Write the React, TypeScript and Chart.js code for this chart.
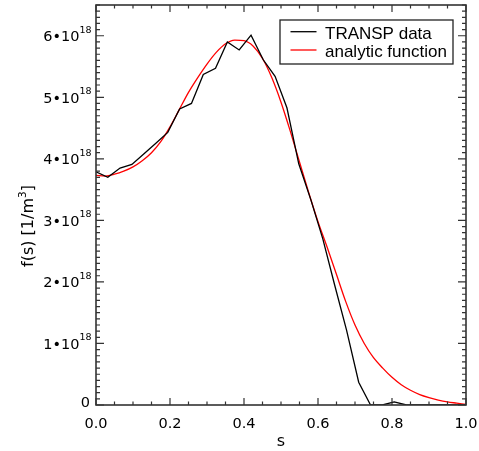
import { useEffect, useRef } from "react";
import { Chart, registerables } from "chart.js";

Chart.register(...registerables);

// TRANSP data (s, f(s) in units of 1e18 1/m^3)
const S_TRANSP = [
  0, 0.032, 0.065, 0.097, 0.129, 0.161, 0.194, 0.226, 0.258, 0.29, 0.323,
  0.355, 0.387, 0.419, 0.452, 0.484, 0.516, 0.548, 0.581, 0.613, 0.645,
  0.677, 0.71, 0.742, 0.774, 0.806, 0.839, 0.871, 0.903, 0.935, 0.968, 1.0,
];
const F_TRANSP = [
  3.79, 3.7, 3.85, 3.91, 4.08, 4.25, 4.43, 4.81, 4.9, 5.37, 5.47,
  5.9, 5.77, 6.01, 5.61, 5.34, 4.83, 3.92, 3.33, 2.7, 1.95,
  1.22, 0.37, 0, 0, 0.05, 0, 0, 0, 0, 0, 0,
];

// analytic function
const S_FIT = [
  0, 0.025, 0.05, 0.075, 0.1, 0.125, 0.15, 0.175, 0.2, 0.225, 0.25, 0.275,
  0.3, 0.325, 0.35, 0.375, 0.4, 0.425, 0.45, 0.475, 0.5, 0.525, 0.55, 0.575,
  0.6, 0.625, 0.65, 0.675, 0.7, 0.725, 0.75, 0.775, 0.8, 0.825, 0.85, 0.875,
  0.9, 0.925, 0.95, 0.975, 1.0,
];
const F_FIT = [
  3.73, 3.72, 3.75, 3.8, 3.87, 3.97, 4.1, 4.28, 4.52, 4.8, 5.08, 5.32,
  5.54, 5.73, 5.87, 5.93, 5.92, 5.83, 5.63, 5.32, 4.92, 4.45, 3.95, 3.45,
  2.98, 2.56, 2.12, 1.68, 1.3, 1.0, 0.77, 0.6, 0.45, 0.33, 0.24, 0.17,
  0.12, 0.08, 0.05, 0.03, 0.01,
];

const X_TICKS = [0, 0.2, 0.4, 0.6, 0.8, 1.0];
const Y_TICKS = [0, 1, 2, 3, 4, 5, 6];
const Y_EXPONENT = "18";
const LEGEND_LABELS = ["TRANSP data", "analytic function"];
const X_TITLE = "s";
const Y_TITLE_MAIN = "f(s) [1/m";
const Y_TITLE_SUP = "3";
const Y_TITLE_END = "]";

const TICK_FONT = "DejaVu Sans";
const LEGEND_FONT = "Liberation Sans";

const decorPlugin = {
  id: "decor",
  afterDraw(chart: any) {
    const { ctx, chartArea: a, scales } = chart;
    const xs = scales.x;
    const ys = scales.y;
    ctx.save();

    // frame
    ctx.strokeStyle = "#333";
    ctx.lineWidth = 1.6;
    ctx.strokeRect(a.left, a.top, a.right - a.left, a.bottom - a.top);

    // ticks (inward, on all four sides)
    ctx.lineWidth = 1.2;
    ctx.beginPath();
    for (let k = 0; k <= 20; k++) {
      const px = xs.getPixelForValue(k * 0.05);
      const len = k % 4 === 0 ? 7 : 3.5;
      ctx.moveTo(px, a.bottom);
      ctx.lineTo(px, a.bottom - len);
      ctx.moveTo(px, a.top);
      ctx.lineTo(px, a.top + len);
    }
    for (let k = 0; k <= 65; k++) {
      const py = ys.getPixelForValue(k * 0.1);
      const len = k % 10 === 0 ? 8 : 4;
      ctx.moveTo(a.left, py);
      ctx.lineTo(a.left + len, py);
      ctx.moveTo(a.right, py);
      ctx.lineTo(a.right - len, py);
    }
    ctx.stroke();

    // y tick labels with superscript exponent
    ctx.fillStyle = "#000";
    ctx.textAlign = "right";
    ctx.textBaseline = "alphabetic";
    const rightX = a.left - 4.5;
    for (const m of Y_TICKS) {
      const py = ys.getPixelForValue(m);
      if (m === 0) {
        ctx.font = `14.5px '${TICK_FONT}'`;
        ctx.fillText("0", rightX - 1.5, py + 1.8);
        continue;
      }
      ctx.font = `9.5px '${TICK_FONT}'`;
      const supW = ctx.measureText(Y_EXPONENT).width;
      ctx.fillText(Y_EXPONENT, rightX, py - 3.1);
      ctx.font = `14.5px '${TICK_FONT}'`;
      ctx.fillText(`${m}\u202210`, rightX - supW, py + 5.3);
    }

    // y title (rotated)
    ctx.save();
    ctx.translate(33, 226);
    ctx.rotate(-Math.PI / 2);
    ctx.textAlign = "left";
    ctx.font = `16px '${TICK_FONT}'`;
    const w1 = ctx.measureText(Y_TITLE_MAIN).width;
    const w3 = ctx.measureText(Y_TITLE_END).width;
    ctx.font = `10.5px '${TICK_FONT}'`;
    const w2 = ctx.measureText(Y_TITLE_SUP).width;
    let x0 = -(w1 + w2 + w3) / 2;
    ctx.font = `16px '${TICK_FONT}'`;
    ctx.fillText(Y_TITLE_MAIN, x0, 0);
    ctx.font = `10.5px '${TICK_FONT}'`;
    ctx.fillText(Y_TITLE_SUP, x0 + w1, -7);
    ctx.font = `16px '${TICK_FONT}'`;
    ctx.fillText(Y_TITLE_END, x0 + w1 + w2, 0);
    ctx.restore();

    // legend
    const bx = 280, by = 20, bw = 173, bh = 44;
    ctx.fillStyle = "#fff";
    ctx.fillRect(bx, by, bw, bh);
    ctx.strokeStyle = "#222";
    ctx.lineWidth = 1.3;
    ctx.strokeRect(bx, by, bw, bh);
    const colors = chart.data.datasets.map((d: any) => d.borderColor);
    const rowY = [31.7, 50];
    ctx.font = `17px '${LEGEND_FONT}'`;
    ctx.textAlign = "left";
    ctx.fillStyle = "#000";
    LEGEND_LABELS.forEach((label, i) => {
      ctx.strokeStyle = colors[i];
      ctx.lineWidth = 1.3;
      ctx.beginPath();
      ctx.moveTo(290.5, rowY[i]);
      ctx.lineTo(316.5, rowY[i]);
      ctx.stroke();
      ctx.fillText(label, 325, rowY[i] + 7);
    });

    ctx.restore();
  },
};

export default function App() {
  const ref = useRef<HTMLCanvasElement | null>(null);

  useEffect(() => {
    if (!ref.current) return;
    const chart = new Chart(ref.current, {
      type: "line",
      data: {
        datasets: [
          {
            label: LEGEND_LABELS[0],
            data: S_TRANSP.map((s, i) => ({ x: s, y: F_TRANSP[i] })),
            borderColor: "#000000",
            borderWidth: 1.3,
            pointRadius: 0,
            tension: 0,
            fill: false,
          },
          {
            label: LEGEND_LABELS[1],
            data: S_FIT.map((s, i) => ({ x: s, y: F_FIT[i] })),
            borderColor: "#ff0000",
            borderWidth: 1.3,
            pointRadius: 0,
            cubicInterpolationMode: "monotone",
            fill: false,
          },
        ],
      },
      options: {
        animation: false,
        responsive: true,
        maintainAspectRatio: false,
        layout: { padding: { top: 5, right: 13, left: 0, bottom: 0 } },
        plugins: {
          legend: { display: false },
          tooltip: { enabled: false },
        },
        scales: {
          x: {
            type: "linear",
            min: 0,
            max: 1,
            grid: { display: false, drawTicks: false },
            border: { display: false },
            afterBuildTicks: (s: any) => {
              s.ticks = X_TICKS.map((v) => ({ value: v }));
            },
            ticks: {
              callback: (v: any) => Number(v).toFixed(1),
              font: { family: TICK_FONT, size: 14.5 },
              color: "#000",
              padding: 11,
              maxRotation: 0,
              autoSkip: false,
            },
            title: {
              display: true,
              text: X_TITLE,
              font: { family: TICK_FONT, size: 16, lineHeight: 1.1 },
              color: "#000",
              padding: { top: 0, bottom: 0 },
            },
            afterFit: (s: any) => {
              s.height = 46;
              s.paddingLeft = 0;
              s.paddingRight = 0;
              s.paddingTop = 0;
              s.paddingBottom = 0;
            },
          },
          y: {
            type: "linear",
            min: 0,
            max: 6.5,
            grid: { display: false, drawTicks: false },
            border: { display: false },
            ticks: { display: false },
            afterFit: (s: any) => {
              s.width = 96;
              s.paddingLeft = 0;
              s.paddingRight = 0;
              s.paddingTop = 0;
              s.paddingBottom = 0;
            },
          },
        },
      },
      plugins: [decorPlugin],
    });
    return () => chart.destroy();
  }, []);

  return (
    <div style={{ position: "absolute", left: 0, top: 0, width: 479, height: 451 }}>
      <canvas ref={ref} />
    </div>
  );
}
